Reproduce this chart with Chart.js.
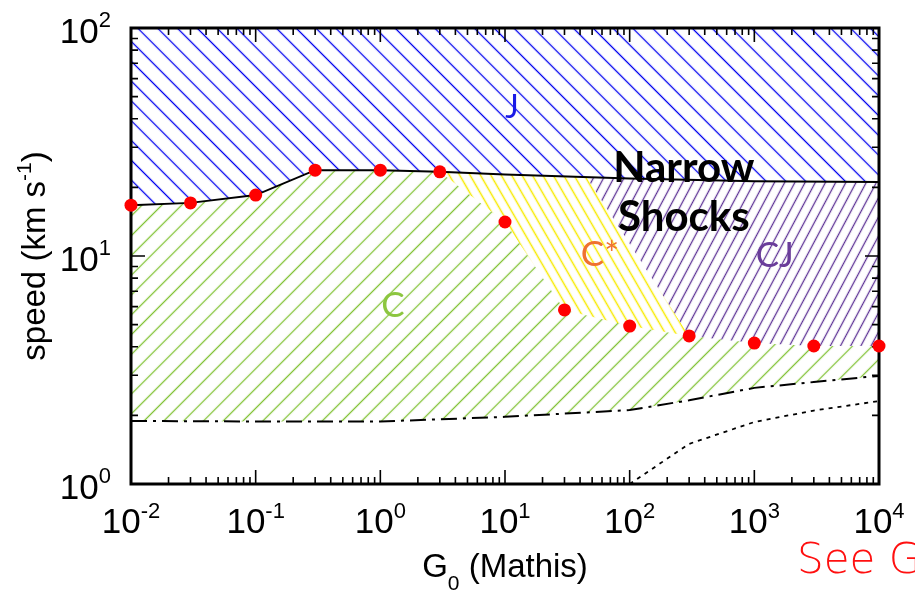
<!DOCTYPE html>
<html>
<head>
<meta charset="utf-8">
<script src="https://cdn.jsdelivr.net/npm/chart.js@4.4.1/dist/chart.umd.min.js"></script>
<style>
  body { margin: 0; background: #fff; }
  canvas { display: block; }
</style>
</head>
<body>
<canvas id="shock_chart" width="915" height="592"></canvas>
<script>
// model points (red dots)
const g0Points = [0.01, 0.03, 0.1, 0.3, 1, 3, 10, 30, 100, 300, 1000, 3000, 10000];
const speedPoints = [16.7, 17.1, 18.5, 23.8, 23.8, 23.4, 14.1, 5.8, 4.93, 4.46, 4.15, 4.03, 4.03];

// J / narrow shocks limit (solid line)
const jLimitG0 = [0.01, 0.03, 0.1, 0.3, 1, 3, 10, 100, 1000, 10000];
const jLimitSpeed = [16.7, 17.1, 18.5, 23.8, 23.8, 23.4, 22.8, 21.9, 21.3, 21.1];

// lower C limit (dash-dot)
const dashDotG0 = [0.01, 0.1, 1, 10, 100, 300, 1000, 3000, 10000];
const dashDotSpeed = [1.89, 1.88, 1.88, 1.97, 2.11, 2.33, 2.64, 2.8, 2.98];

// dotted line
const dottedG0 = [100, 300, 1000, 3000, 10000];
const dottedSpeed = [1.0, 1.5, 1.87, 2.1, 2.31];

// C* zone
const cStarTopG0 = [3, 10, 45, 300];
const cStarTopSpeed = [23.4, 22.8, 22.2, 4.46];
const cStarBottomG0 = g0Points.slice(5, 10);
const cStarBottomSpeed = speedPoints.slice(5, 10);

// CJ zone
const cjTopG0 = [45, 100, 1000, 10000];
const cjTopSpeed = [22.2, 21.9, 21.3, 21.1];
const cjBottomG0 = [45, 300, 1000, 3000, 10000];
const cjBottomSpeed = [22.2, 4.46, 4.15, 4.03, 4.03];

// ticks (powers of ten)
const xTickExps = [-2, -1, 0, 1, 2, 3, 4];
const yTickExps = [0, 1, 2];

const pts = (xs, ys) => xs.map((x, i) => ({ x: x, y: ys[i] }));

const canvas = document.querySelector("#shock_chart");
const context = canvas.getContext("2d");

// hatch pattern: lines rotated by angle (deg) from vertical
function hatch(color, gap, angle, lw) {
  const c = document.createElement("canvas");
  c.width = gap;
  c.height = gap;
  const g = c.getContext("2d");
  g.strokeStyle = color;
  g.lineWidth = lw;
  g.beginPath();
  g.moveTo(Math.floor(gap / 2) + 0.5, -1);
  g.lineTo(Math.floor(gap / 2) + 0.5, gap + 1);
  g.stroke();
  const p = context.createPattern(c, "repeat");
  p.setTransform(new DOMMatrix().rotateSelf(angle));
  return p;
}

const blueHatch = hatch("#0000ee", 14, -45, 1.3);
const greenHatch = hatch("#82c236", 14, 45, 1.3);
const yellowHatch = hatch("#f7ea00", 9, -30, 1.5);
const purpleHatch = hatch("#5e3496", 9, 28, 1.3);

const edge = { borderWidth: 0, pointRadius: 0, pointHoverRadius: 0 };

const SANS = "'Liberation Sans', Arial, sans-serif";

// 上付き文字
function supText(ctx, base, exp, x, y, align, bSize, eSize, shift) {
  ctx.font = bSize + "px " + SANS;
  const wb = ctx.measureText(base).width;
  ctx.font = eSize + "px " + SANS;
  const we = ctx.measureText(exp).width;
  let sx = x;
  if (align === "center") sx = x - (wb + we) / 2;
  if (align === "right") sx = x - (wb + we);
  ctx.textAlign = "left";
  ctx.font = bSize + "px " + SANS;
  ctx.fillText(base, sx, y);
  ctx.font = eSize + "px " + SANS;
  ctx.fillText(exp, sx + wb, y + shift);
}

const frameAxes = {
  id: "frameAxes",
  beforeDatasetsDraw(chart) {
    const { ctx, chartArea: a, scales } = chart;
    ctx.save();
    ctx.strokeStyle = "#000";
    ctx.lineWidth = 1.6;
    ctx.beginPath();
    for (let e = -2; e <= 4; e++) {
      for (let m = 1; m <= 9; m++) {
        const v = m * Math.pow(10, e);
        if (v > 10000) break;
        const px = scales.x.getPixelForValue(v);
        const len = m === 1 ? 14 : 7;
        ctx.moveTo(px, a.bottom); ctx.lineTo(px, a.bottom - len);
        ctx.moveTo(px, a.top); ctx.lineTo(px, a.top + len);
      }
    }
    for (let e = 0; e <= 2; e++) {
      for (let m = 1; m <= 9; m++) {
        const v = m * Math.pow(10, e);
        if (v > 100) break;
        const py = scales.y.getPixelForValue(v);
        const len = m === 1 ? 14 : 7;
        ctx.moveTo(a.left, py); ctx.lineTo(a.left + len, py);
        ctx.moveTo(a.right, py); ctx.lineTo(a.right - len, py);
      }
    }
    ctx.stroke();
    ctx.lineWidth = 3;
    ctx.strokeRect(a.left, a.top, a.right - a.left, a.bottom - a.top);
    ctx.restore();
  },
  afterDraw(chart) {
    const { ctx, chartArea: a, scales } = chart;
    ctx.save();
    ctx.fillStyle = "#000";
    ctx.textBaseline = "alphabetic";
    xTickExps.forEach((e) => {
      const px = scales.x.getPixelForValue(Math.pow(10, e));
      supText(ctx, "10", String(e), px, a.bottom + 49, "center", 35, 22, -15);
    });
    yTickExps.forEach((e) => {
      const py = scales.y.getPixelForValue(Math.pow(10, e));
      supText(ctx, "10", String(e), 111, py + 15, "right", 35, 22, -16);
    });

    // x title: G0 (Mathis)
    const cx = (a.left + a.right) / 2;
    ctx.font = "33px " + SANS;
    const wG = ctx.measureText("G").width;
    const wRest = ctx.measureText(" (Mathis)").width;
    ctx.font = "21px " + SANS;
    const w0 = ctx.measureText("0").width;
    let sx = cx - (wG + w0 + wRest) / 2;
    ctx.textAlign = "left";
    ctx.font = "33px " + SANS;
    ctx.fillText("G", sx, 577);
    ctx.font = "21px " + SANS;
    ctx.fillText("0", sx + wG, 590);
    ctx.font = "33px " + SANS;
    ctx.fillText(" (Mathis)", sx + wG + w0, 577);

    // y title: speed (km s-1)
    ctx.save();
    ctx.translate(45, (a.top + a.bottom) / 2);
    ctx.rotate(-Math.PI / 2);
    ctx.font = "33px " + SANS;
    const wA = ctx.measureText("speed (km s").width;
    const wB = ctx.measureText(")").width;
    ctx.font = "21px " + SANS;
    const wE = ctx.measureText("-1").width;
    sx = -(wA + wB + wE) / 2;
    ctx.font = "33px " + SANS;
    ctx.fillText("speed (km s", sx, 0);
    ctx.font = "21px " + SANS;
    ctx.fillText("-1", sx + wA, -14);
    ctx.font = "33px " + SANS;
    ctx.fillText(")", sx + wA + wE, 0);
    ctx.restore();

    // region labels
    const lab = (txt, gx, sp, color, font) => {
      ctx.fillStyle = color;
      ctx.font = font;
      ctx.textAlign = "center";
      ctx.textBaseline = "middle";
      ctx.fillText(txt, scales.x.getPixelForValue(gx), scales.y.getPixelForValue(sp));
    };
    lab("J", 11.4, 44.6, "#1a1ae6", "32px Lato, sans-serif");
    lab("C", 1.26, 6.04, "#8cc63f", "35px Lato, sans-serif");
    lab("C*", 57.7, 10.1, "#ef7230", "35px Lato, sans-serif");
    lab("CJ", 1460, 10.0, "#6a3d9a", "35px Lato, sans-serif");
    lab("Narrow", 272, 24.1, "#000", "bold 42px Lato, sans-serif");
    lab("Shocks", 272, 14.8, "#000", "bold 42px Lato, sans-serif");

    ctx.fillStyle = "#ff1010";
    ctx.font = "200 42px 'DejaVu Sans', sans-serif";
    ctx.textAlign = "left";
    ctx.textBaseline = "alphabetic";
    ctx.fillText("See G", 797, 573);
    ctx.restore();
  },
};

new Chart(context, {
  type: "line",
  data: {
    datasets: [
      {
        data: pts(g0Points, speedPoints),
        showLine: false,
        pointRadius: 6.5,
        pointBackgroundColor: "#ff0000",
        pointBorderWidth: 0,
        clip: false,
      },
      {
        data: pts(jLimitG0, jLimitSpeed),
        borderColor: "#000",
        borderWidth: 2,
        pointRadius: 0,
        fill: "end",
        backgroundColor: blueHatch,
      },
      {
        data: pts(dashDotG0, dashDotSpeed),
        borderColor: "#000",
        borderWidth: 2,
        borderDash: [16, 6, 3, 6],
        pointRadius: 0,
        fill: false,
      },
      {
        data: pts(dottedG0, dottedSpeed),
        borderColor: "#000",
        borderWidth: 1.8,
        borderDash: [4, 5],
        pointRadius: 0,
        fill: false,
      },
      { ...edge, data: pts(g0Points, speedPoints), fill: { target: 2 }, backgroundColor: greenHatch },
      { ...edge, data: pts(cStarTopG0, cStarTopSpeed), fill: { target: 6 }, backgroundColor: yellowHatch },
      { ...edge, data: pts(cStarBottomG0, cStarBottomSpeed), fill: false },
      { ...edge, data: pts(cjTopG0, cjTopSpeed), fill: { target: 8 }, backgroundColor: purpleHatch },
      { ...edge, data: pts(cjBottomG0, cjBottomSpeed), fill: false },
    ],
  },
  options: {
    responsive: false,
    animation: false,
    layout: { padding: { left: 131, right: 36, top: 28, bottom: 108 } },
    elements: { line: { tension: 0 } },
    scales: {
      x: { type: "logarithmic", min: 0.01, max: 10000, display: false },
      y: { type: "logarithmic", min: 1, max: 100, display: false },
    },
    plugins: {
      legend: { display: false },
      tooltip: { enabled: false },
      filler: { drawTime: "beforeDatasetsDraw" },
    },
  },
  plugins: [frameAxes],
});
</script>
</body>
</html>
